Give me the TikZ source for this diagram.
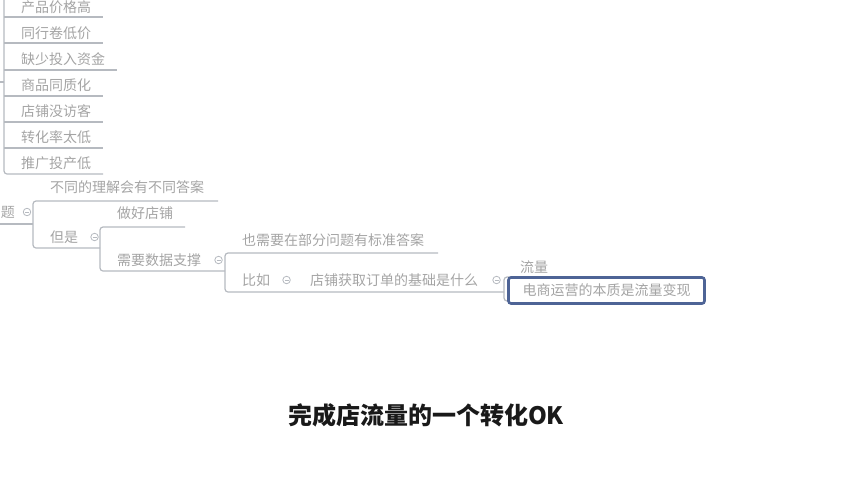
\documentclass[tikz,border=0pt]{standalone}
\usepackage{fontspec}
\usepackage{tikz}
\usetikzlibrary{positioning}
\newfontfamily\cjk{Noto Sans CJK SC}
\definecolor{txtgray}{HTML}{A4A4A4}
\definecolor{linegray}{HTML}{B6BAC0}
\definecolor{boxblue}{HTML}{4E6496}

\begin{document}
\begin{tikzpicture}[x=1pt,y=-1pt,
  topic/.style={anchor=west,inner sep=0pt,font=\cjk\fontsize{14}{14}\selectfont,text=txtgray},
  branch/.style={draw=linegray,line width=1.2pt,rounded corners=3pt},
  fold/.style={circle,draw=linegray,line width=0.8pt,minimum size=7.5pt,inner sep=0pt,
    path picture={\draw[linegray,line width=0.8pt] ([xshift=-2pt]path picture bounding box.center) -- ([xshift=2pt]path picture bounding box.center);}}]
\useasboundingbox (0,0) rectangle (852,480);

% list at the top
\foreach \t [count=\i] in {产品价格高,同行卷低价,缺少投入资金,商品同质化,店铺没访客,转化率太低,推广投产低}
  \node[topic] (p\i) at (21,{7+26*(\i-1)}) {\t};
\draw[branch] (4,-10) |- (103,174);
\foreach \y/\e in {17/103,43/103,70/117,96/103,122/103,148/103}
  \draw[branch] (4,\y) -- (\e,\y);
\draw[branch] (0,82) -- (4,82);

% middle branches
\node[topic,anchor=east] (q) at (15,212) {题};
\node[fold] (qf) at (27,212) {};
\draw[branch] (0,224) -- (33,224);
\node[topic] (diff) at (50,187) {不同的理解会有不同答案};
\node[topic] (but) at (50,237) {但是};
\node[fold,right=12pt of but] (butf) {};
\draw[branch] (218,201) -| (33,248) -- (100,248);

\node[topic] (shop) at (117,213) {做好店铺};
\node[topic] (data) at (117,260) {需要数据支撑};
\node[fold,right=13pt of data] (dataf) {};
\draw[branch] (185,227) -| (100,271) -- (225,271);

\node[topic] (std) at (242,240) {也需要在部分问题有标准答案};
\node[topic] (eg) at (242,280) {比如};
\node[fold,right=12pt of eg] (egf) {};
\node[topic] (order) at (310,280) {店铺获取订单的基础是什么};
\node[fold,right=14pt of order] (orderf) {};
\draw[branch] (438,253) -| (225,292) -- (504,292);
\draw[branch] (514,277) -| (504,301) -- (514,301);

\node[topic] (flow) at (520,267) {流量};
\node[topic,anchor=center,draw=boxblue,line width=2.6pt,rounded corners=2.5pt,fill=white,
  minimum width=196pt,minimum height=26pt] (core) at (606.5,290.5) {电商运营的本质是流量变现};

% caption
\node[font=\cjk\bfseries\fontsize{24}{24}\selectfont,text=black!90] (cap) at (426,415) {完成店流量的一个转化OK};
\end{tikzpicture}
\end{document}
